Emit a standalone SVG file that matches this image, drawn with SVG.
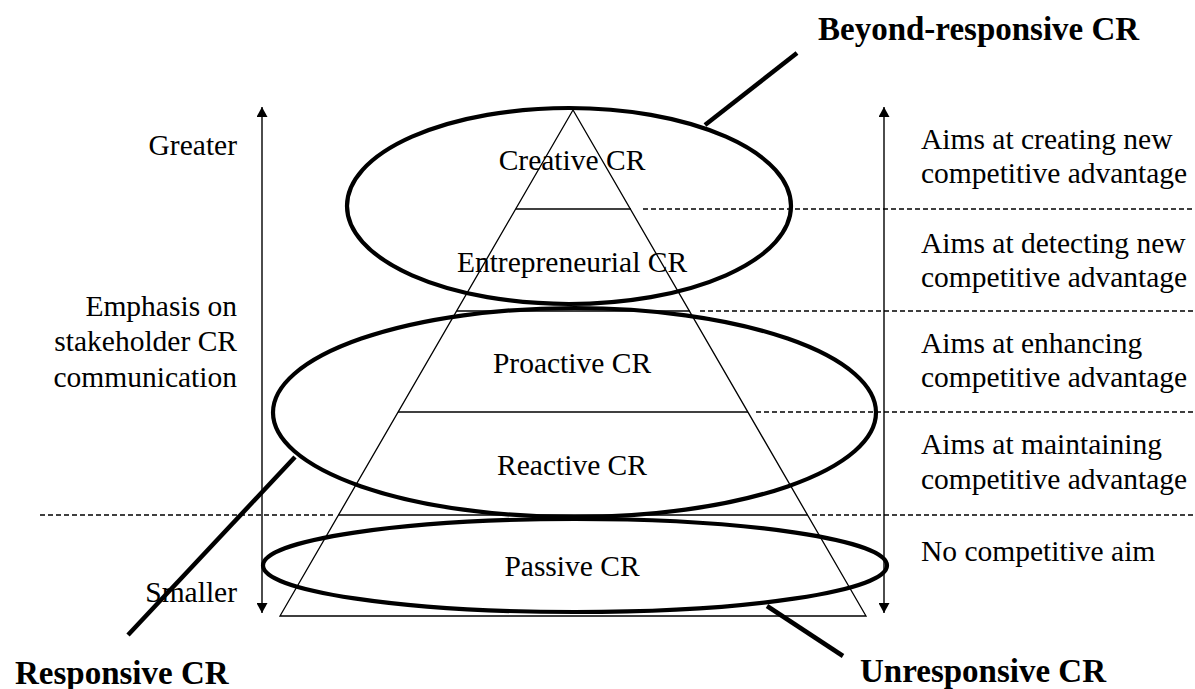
<svg xmlns="http://www.w3.org/2000/svg" width="1195" height="689" viewBox="0 0 1195 689">
<defs>
<marker id="ah" viewBox="0 0 10 11" refX="10" refY="5.5" markerWidth="10" markerHeight="11" markerUnits="userSpaceOnUse" orient="auto-start-reverse">
<path d="M0,0 L10,5.5 L0,11 Z" fill="#000"/>
</marker>
<style>
.t{font-family:"Liberation Serif","Times New Roman",serif;font-size:29.5px;fill:#000}
.b{font-family:"Liberation Serif","Times New Roman",serif;font-size:33px;font-weight:bold;fill:#000}
.m{text-anchor:middle}
.r{text-anchor:end}
.tri{fill:none;stroke:#000;stroke-width:1.3}
.div{stroke:#000;stroke-width:1.6}
.dash{stroke:#000;stroke-width:1.5;stroke-dasharray:5 3}
.ell{fill:none;stroke:#000;stroke-width:4.2}
.lead{stroke:#000;stroke-width:4.5}
.arr{stroke:#000;stroke-width:1.4;marker-start:url(#ah);marker-end:url(#ah)}
</style>
</defs>
<rect width="1195" height="689" fill="#fff"/>

<g id="pyramid">
<path class="tri" d="M573,110 L280,616 L866,616 Z"/>
<line class="div" x1="516" y1="209" x2="631" y2="209"/>
<line class="div" x1="457" y1="311" x2="690" y2="311"/>
<line class="div" x1="398" y1="412" x2="748" y2="412"/>
<line class="div" x1="338" y1="515" x2="808" y2="515"/>
</g>

<g id="dividers">
<line class="dash" x1="643" y1="209" x2="1195" y2="209"/>
<line class="dash" x1="700" y1="311" x2="1195" y2="311"/>
<line class="dash" x1="756" y1="412" x2="1195" y2="412"/>
<line class="dash" x1="812" y1="515" x2="1195" y2="515"/>
<line class="dash" x1="40" y1="515" x2="336" y2="515"/>
</g>

<g id="level-creative"><text class="t m" x="572" y="170">Creative CR</text></g>
<g id="level-entrepreneurial"><text class="t m" x="572" y="272">Entrepreneurial CR</text></g>
<g id="level-proactive"><text class="t m" x="572" y="373">Proactive CR</text></g>
<g id="level-reactive"><text class="t m" x="572" y="475">Reactive CR</text></g>
<g id="level-passive"><text class="t m" x="572" y="576">Passive CR</text></g>

<g id="beyond-responsive">
<ellipse class="ell" cx="569" cy="206" rx="222" ry="98"/>
<text class="b" x="818" y="40">Beyond-responsive CR</text>
</g>
<g id="responsive">
<ellipse class="ell" cx="574.5" cy="412.5" rx="301.5" ry="104.5"/>
<text class="b" x="15" y="684">Responsive CR</text>
</g>
<g id="unresponsive">
<ellipse class="ell" cx="575" cy="565.5" rx="312" ry="46.5"/>
<text class="b" x="860" y="682">Unresponsive CR</text>
</g>

<g id="left-scale">
<text class="t r" x="237" y="155">Greater</text>
<text class="t r" x="237" y="316">Emphasis on</text>
<text class="t r" x="237" y="351">stakeholder CR</text>
<text class="t r" x="237" y="387">communication</text>
<text class="t r" x="237" y="602">Smaller</text>
</g>

<g id="right-scale">
<text class="t" x="921" y="149">Aims at creating new</text>
<text class="t" x="921" y="183">competitive advantage</text>
<text class="t" x="921" y="253">Aims at detecting new</text>
<text class="t" x="921" y="287">competitive advantage</text>
<text class="t" x="921" y="353">Aims at enhancing</text>
<text class="t" x="921" y="387">competitive advantage</text>
<text class="t" x="921" y="454">Aims at maintaining</text>
<text class="t" x="921" y="489">competitive advantage</text>
<text class="t" x="921" y="561">No competitive aim</text>
</g>

<g id="connectors">
<line class="lead" x1="705" y1="125" x2="797" y2="53"/>
<line class="lead" x1="295" y1="457" x2="128" y2="635"/>
<line class="lead" x1="767" y1="606" x2="843" y2="656"/>
<line class="arr" x1="262" y1="107" x2="262" y2="613"/>
<line class="arr" x1="884" y1="107" x2="884" y2="613"/>
</g>
</svg>
